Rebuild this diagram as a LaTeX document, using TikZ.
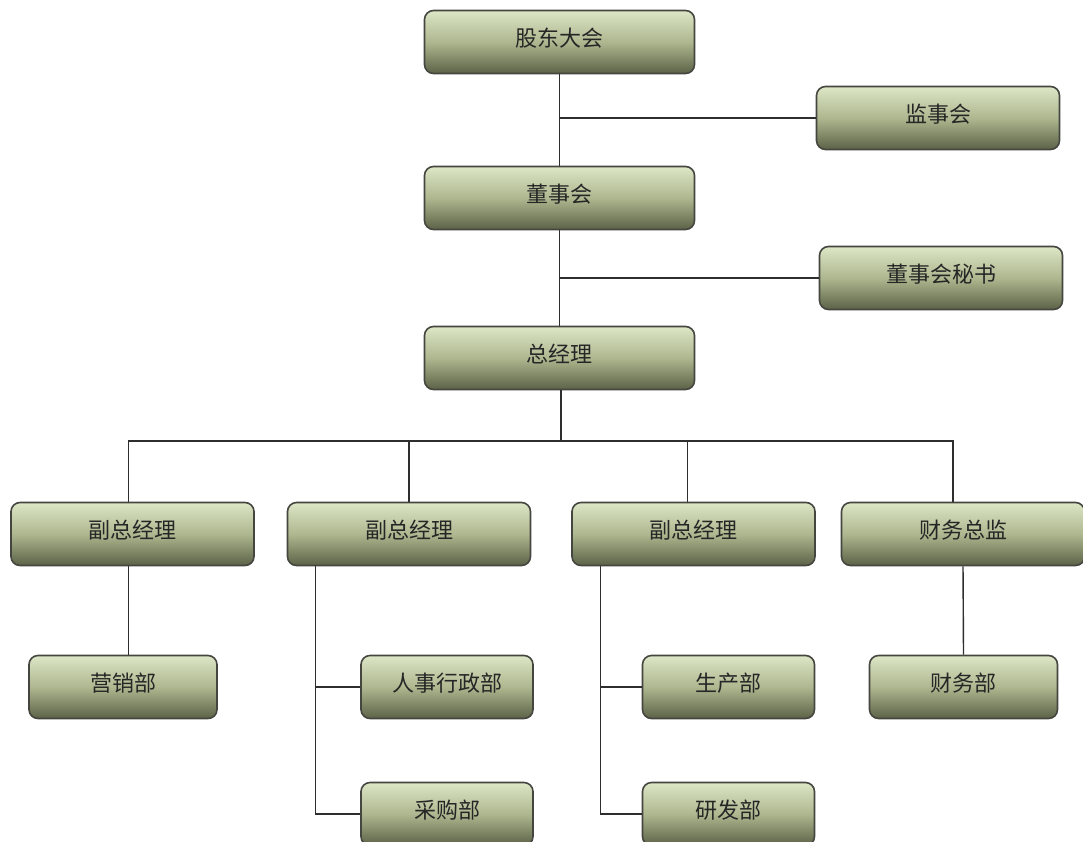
\documentclass[tikz,border=0pt]{standalone}
\usepackage{fontspec}
\newfontfamily\cjk{Noto Sans CJK SC}
\usetikzlibrary{positioning}
\definecolor{boxtop}{HTML}{DDE6C6}
\definecolor{boxmid}{HTML}{AEB78F}
\definecolor{boxbot}{HTML}{5C6247}
\definecolor{boxline}{HTML}{45463F}
\definecolor{wire}{HTML}{2E2E2E}
\begin{document}
\begin{tikzpicture}[x=1pt,y=-1pt,
        orgbox/.style={draw=boxline, line width=1.6pt, rounded corners=9pt,
            top color=boxtop, bottom color=boxbot, middle color=boxmid,
            minimum height=63pt, text=black!85, font=\cjk\fontsize{22}{26}\selectfont,
            text depth=10pt},
        wide/.style={minimum width=270pt},
        mid/.style={minimum width=243pt},
        small/.style={minimum width=188pt},
        tiny/.style={minimum width=172pt},
        conn/.style={draw=wire, line width=1.4pt}]
        \clip (0,0) rectangle (1083,841);

        % 上层
        \node[orgbox, wide] (gd) at (559.5, 42) {股东大会};
        \node[orgbox, mid] (jsh) at (938, 118) {监事会};
        \node[orgbox, wide] (dsh) at (559.5, 198) {董事会};
        \node[orgbox, mid] (ms) at (941, 278) {董事会秘书};
        \node[orgbox, wide] (zjl) at (559.5, 358) {总经理};

        % 副总层
        \node[orgbox, mid] (fz1) at (132.5, 534) {副总经理};
        \node[orgbox, mid] (fz2) at (409, 534) {副总经理};
        \node[orgbox, mid] (fz3) at (693.5, 534) {副总经理};
        \node[orgbox, mid] (cwzj) at (963, 534) {财务总监};

        % 部门
        \node[orgbox, small] (yx) at (123, 687) {营销部};
        \node[orgbox, tiny] (rs) at (447, 687) {人事行政部};
        \node[orgbox, tiny] (cg) at (447, 814) {采购部};
        \node[orgbox, tiny] (sc) at (728.5, 687) {生产部};
        \node[orgbox, tiny] (yf) at (728.5, 814) {研发部};
        \node[orgbox, small] (cwb) at (963.5, 687) {财务部};

        % 连线
        \draw[conn] (gd.south) -- (dsh.north);
        \draw[conn] (jsh.west) -- (jsh.west -| gd.south);
        \draw[conn] (dsh.south) -- (zjl.north);
        \draw[conn] (ms.west) -- (ms.west -| dsh.south);

        \coordinate (bus) at (561, 441);
        \draw[conn] ([xshift=1.5pt]zjl.south) -- (bus);
        \draw[conn] ([xshift=-4pt]fz1.north) |- (bus) -| ([xshift=-10pt]cwzj.north);
        \draw[conn] (fz2.north) -- (fz2.north |- bus);
        \draw[conn] ([xshift=-6pt]fz3.north) -- ([xshift=-6pt]fz3.north |- bus);

        \draw[conn] ([xshift=-4pt]fz1.south) -- ([xshift=-4pt]fz1.south |- yx.north);
        \coordinate (b2) at ([xshift=29pt]fz2.south west);
        \draw[conn] (b2) |- (cg.west);
        \draw[conn] (rs.west) -- (rs.west -| b2);
        \coordinate (b3) at ([xshift=29pt]fz3.south west);
        \draw[conn] (b3) |- (yf.west);
        \draw[conn] (sc.west) -- (sc.west -| b3);
        \draw[conn] (cwzj.south) -- (cwb.north);
\end{tikzpicture}
\end{document}
